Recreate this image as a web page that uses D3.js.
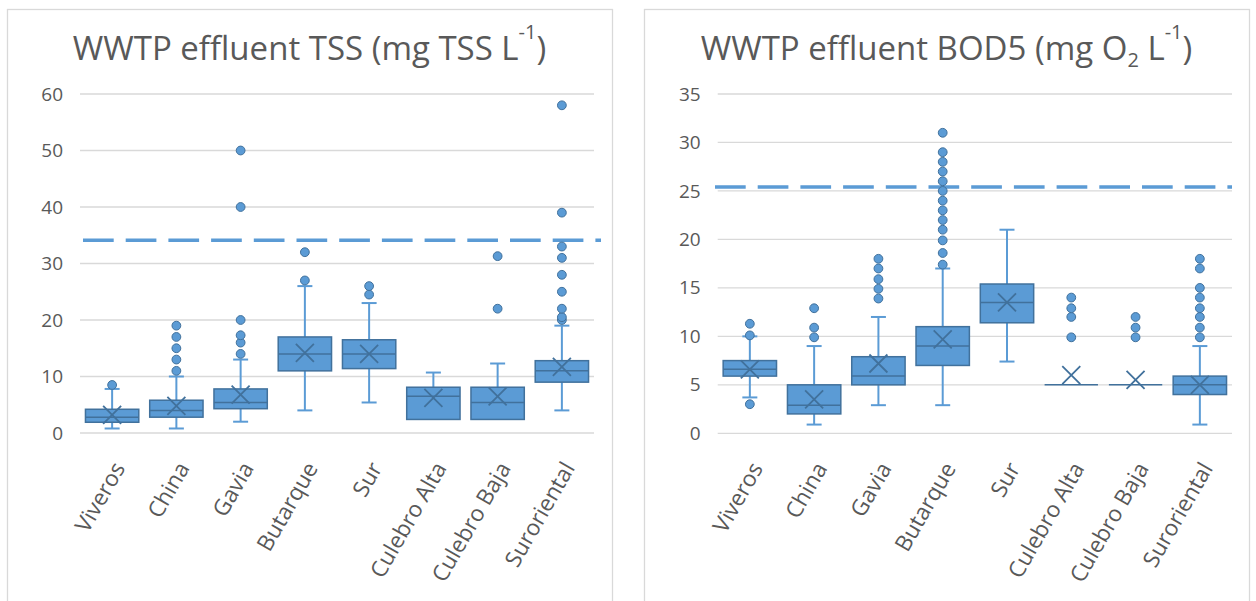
<!DOCTYPE html>
<html><head><meta charset="utf-8">
<script src="https://cdn.jsdelivr.net/npm/d3@7"></script>
<style>
body{margin:0;background:#fff}
svg{display:block}
text{font-family:"Open Sans",sans-serif;fill:#595959}
</style>
</head><body>
<svg id="chart" width="1256" height="601"></svg>
<script>
const categories = ["Viveros","China","Gavia","Butarque","Sur","Culebro Alta","Culebro Baja","Suroriental"];

// Effluent TSS (mg TSS/L) five-number summaries, means and outliers
const tssMin    = [0.8, 0.8, 2.0, 4.0, 5.4, 2.4, 2.4, 4.0];
const tssQ1     = [1.9, 2.8, 4.3, 11.0, 11.4, 2.4, 2.4, 9.0];
const tssMedian = [2.8, 4.0, 5.4, 14.0, 14.0, 6.5, 5.4, 11.0];
const tssQ3     = [4.2, 5.8, 7.8, 17.0, 16.5, 8.1, 8.1, 12.8];
const tssMax    = [7.8, 10.0, 13.0, 26.0, 23.0, 10.7, 12.3, 19.0];
const tssMean   = [3.2, 4.8, 6.8, 14.2, 14.0, 6.2, 6.5, 11.7];
const tssOutliers = [
  [8.5],
  [11, 13, 15, 17, 19],
  [14, 16, 17.3, 20, 40, 50],
  [27, 32],
  [24.5, 26],
  [],
  [22, 31.3],
  [20, 20.5, 22, 25, 28, 31, 33, 39, 58]
];
const tssLimit = 34.1;
const tssTicks = [0, 10, 20, 30, 40, 50, 60];

// Effluent BOD5 (mg O2/L)
const bodMin    = [3.7, 0.9, 2.9, 2.9, 7.4, 5.0, 5.0, 0.9];
const bodQ1     = [5.9, 2.0, 5.0, 7.0, 11.4, 5.0, 5.0, 4.0];
const bodMedian = [6.6, 2.9, 5.9, 9.0, 13.5, 5.0, 5.0, 5.0];
const bodQ3     = [7.5, 5.0, 7.9, 11.0, 15.4, 5.0, 5.0, 5.9];
const bodMax    = [10.0, 9.0, 12.0, 17.0, 21.0, 5.0, 5.0, 9.0];
const bodMean   = [6.6, 3.5, 7.2, 9.7, 13.5, 6.0, 5.5, 5.0];
const bodOutliers = [
  [3.0, 10.1, 11.3],
  [9.9, 10.9, 12.9],
  [13.9, 14.9, 15.9, 17, 18],
  [17.4, 18.6, 19.9, 21, 22, 23, 24, 25, 26, 27, 28, 29, 31],
  [],
  [9.9, 12, 12.9, 14],
  [9.9, 10.9, 12],
  [9.9, 10.9, 12, 12.9, 14, 15, 17, 18]
];
const bodLimit = 25.4;
const bodTicks = [0, 5, 10, 15, 20, 25, 30, 35];

const FILL = "#5B9BD5", DARK = "#41719C", GRID = "#D9D9D9";

function rows(min, q1, med, q3, max, mean, out) {
  return categories.map((c, i) => ({cat: c, min: min[i], q1: q1[i], med: med[i], q3: q3[i], max: max[i], mean: mean[i], out: out[i]}));
}

const panels = [
  {
    frame: {x: 7, y: 9, w: 605},
    plot: {left: 80, right: 594, top: 94, bottom: 433},
    domain: [0, 60], ticks: tssTicks, limit: tssLimit, limitExt: [3, 7],
    data: rows(tssMin, tssQ1, tssMedian, tssQ3, tssMax, tssMean, tssOutliers),
    title: [{t: "WWTP effluent TSS (mg TSS L"}, {t: "-1", sup: true}, {t: ")"}]
  },
  {
    frame: {x: 644, y: 9, w: 605},
    plot: {left: 717.7, right: 1232, top: 94, bottom: 433.3},
    domain: [0, 35], ticks: bodTicks, limit: bodLimit, limitExt: [-2.7, 0],
    data: rows(bodMin, bodQ1, bodMedian, bodQ3, bodMax, bodMean, bodOutliers),
    title: [{t: "WWTP effluent BOD5 (mg O"}, {t: "2", sub: true}, {t: " L"}, {t: "-1", sup: true}, {t: ")"}]
  }
];

const svg = d3.select("#chart");

panels.forEach(p => {
  const g = svg.append("g");
  const f = p.frame, pl = p.plot;

  // chart frame
  g.append("rect").attr("x", f.x + 0.5).attr("y", f.y + 0.5)
    .attr("width", f.w).attr("height", 640)
    .attr("fill", "#fff").attr("stroke", GRID).attr("stroke-width", 1.3);

  // title with sub/superscripts
  const title = g.append("text")
    .attr("x", f.x + f.w / 2).attr("y", 60)
    .attr("text-anchor", "middle").style("font-size", "33px");
  let shift = 0;
  p.title.forEach(part => {
    const target = part.sup ? -21 : part.sub ? 7 : 0;
    title.append("tspan")
      .attr("dy", target - shift)
      .style("font-size", part.sup || part.sub ? "20px" : "33px")
      .text(part.t);
    shift = target;
  });

  const x = d3.scaleBand().domain(categories).range([pl.left, pl.right]);
  const y = d3.scaleLinear().domain(p.domain).range([pl.bottom, pl.top]);
  const bw = x.bandwidth() * 0.83;
  const cap = 15;

  // gridlines and value axis
  g.append("g").selectAll("line").data(p.ticks).join("line")
    .attr("x1", pl.left).attr("x2", pl.right)
    .attr("y1", d => y(d)).attr("y2", d => y(d))
    .attr("stroke", GRID).attr("stroke-width", 1.3);

  const yAxis = g.append("g").attr("transform", `translate(${pl.left - 17},0)`)
    .call(d3.axisLeft(y).tickValues(p.ticks).tickSize(0).tickPadding(0));
  yAxis.select(".domain").remove();
  yAxis.selectAll("text").style("font-size", "19px").attr("fill", "#595959")
    .style("font-family", '"Open Sans",sans-serif');

  // category axis
  const xAxis = g.append("g").attr("transform", `translate(0,${pl.bottom})`)
    .call(d3.axisBottom(x).tickSize(0).tickPadding(0));
  xAxis.select(".domain").remove();
  xAxis.selectAll("text")
    .style("font-size", "22.5px").attr("fill", "#595959")
    .style("font-family", '"Open Sans",sans-serif')
    .attr("text-anchor", "end")
    .attr("dy", "0.35em")
    .attr("transform", "translate(7,31) rotate(-60)")
    .attr("x", 0).attr("y", 0);

  // compliance limit
  g.append("line")
    .attr("x1", pl.left + p.limitExt[0]).attr("x2", pl.right + p.limitExt[1])
    .attr("y1", y(p.limit)).attr("y2", y(p.limit))
    .attr("stroke", FILL).attr("stroke-width", 3.5)
    .attr("stroke-dasharray", "30.7 12");

  const box = g.append("g").selectAll("g").data(p.data).join("g")
    .attr("transform", d => `translate(${x(d.cat) + x.bandwidth() / 2},0)`);

  // whiskers
  box.append("line").attr("x1", 0).attr("x2", 0)
    .attr("y1", d => y(d.min)).attr("y2", d => y(d.q1))
    .attr("stroke", FILL).attr("stroke-width", 2);
  box.append("line").attr("x1", 0).attr("x2", 0)
    .attr("y1", d => y(d.q3)).attr("y2", d => y(d.max))
    .attr("stroke", FILL).attr("stroke-width", 2);
  box.filter(d => d.min < d.q1).append("line")
    .attr("x1", -cap / 2).attr("x2", cap / 2)
    .attr("y1", d => y(d.min)).attr("y2", d => y(d.min))
    .attr("stroke", FILL).attr("stroke-width", 2);
  box.filter(d => d.max > d.q3).append("line")
    .attr("x1", -cap / 2).attr("x2", cap / 2)
    .attr("y1", d => y(d.max)).attr("y2", d => y(d.max))
    .attr("stroke", FILL).attr("stroke-width", 2);

  // interquartile box
  box.append("rect")
    .attr("x", -bw / 2).attr("width", bw)
    .attr("y", d => y(d.q3)).attr("height", d => y(d.q1) - y(d.q3))
    .attr("fill", FILL).attr("stroke", DARK).attr("stroke-width", 1.5);

  // median
  box.append("line").attr("x1", -bw / 2).attr("x2", bw / 2)
    .attr("y1", d => y(d.med)).attr("y2", d => y(d.med))
    .attr("stroke", DARK).attr("stroke-width", 1.5);

  // mean marker
  const m = 9;
  box.append("path")
    .attr("d", d => { const c = y(d.mean); return `M${-m},${c - m}L${m},${c + m}M${-m},${c + m}L${m},${c - m}`; })
    .attr("stroke", DARK).attr("stroke-width", 1.8).attr("fill", "none");

  // outliers
  box.selectAll("circle").data(d => d.out).join("circle")
    .attr("cx", 0).attr("cy", d => y(d)).attr("r", 4.4)
    .attr("fill", FILL).attr("stroke", DARK).attr("stroke-width", 1);
});
</script>
</body></html>
